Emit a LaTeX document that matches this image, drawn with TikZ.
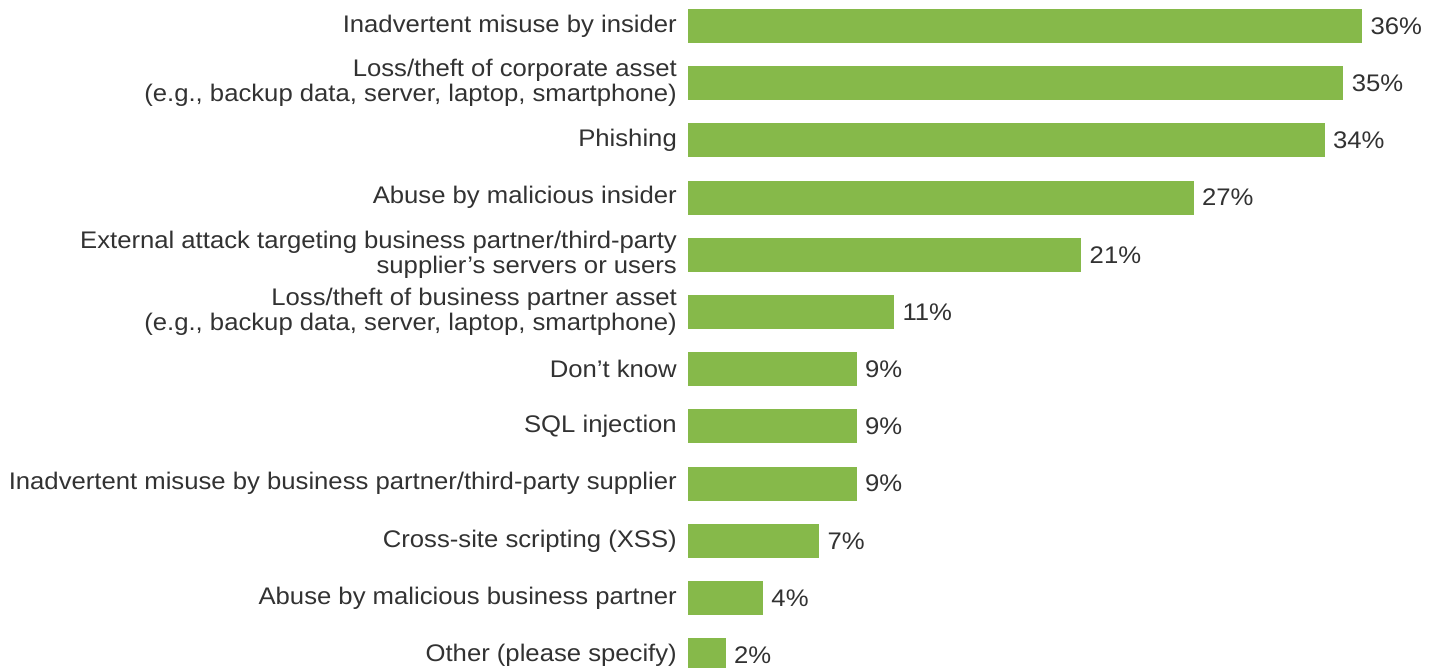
\documentclass[tikz,border=0pt]{standalone}
\usepackage{fontspec}
\setmainfont[FakeStretch=1.07]{Liberation Sans}
\usetikzlibrary{positioning}
\definecolor{bargreen}{RGB}{134,185,74}
\definecolor{labelgray}{RGB}{50,50,50}

\begin{document}
\begin{tikzpicture}[x=1pt, y=-1pt,
    bar/.style={fill=bargreen, draw=none, inner sep=0, anchor=west, minimum height=34pt},
    catlabel/.style={anchor=east, align=right, inner sep=0, text=labelgray, font=\fontsize{24}{25}\selectfont},
    pct/.style={right=8pt of #1, inner sep=0, text=labelgray, font=\fontsize{24}{25}\selectfont}]
  \useasboundingbox (0,0) rectangle (1441,668);
  \foreach \v/\t [count=\i] in {
      36/{Inadvertent misuse by insider},
      35/{Loss/theft of corporate asset\\(e.g., backup data, server, laptop, smartphone)},
      34/{Phishing},
      27/{Abuse by malicious insider},
      21/{External attack targeting business partner/third-party\\supplier's servers or users},
      11/{Loss/theft of business partner asset\\(e.g., backup data, server, laptop, smartphone)},
      9/{Don't know},
      9/{SQL injection},
      9/{Inadvertent misuse by business partner/third-party supplier},
      7/{Cross-site scripting (XSS)},
      4/{Abuse by malicious business partner},
      2/{Other (please specify)}} {
    \pgfmathsetmacro\yc{26+57.2*(\i-1)}
    \node[bar, minimum width=\v*18.72pt] (bar\i) at (688,\yc) {};
    \node[catlabel] (cat\i) at (677,\yc) {\t};
    \node[pct=bar\i] (pct\i) {\v\%};
  }
\end{tikzpicture}
\end{document}
